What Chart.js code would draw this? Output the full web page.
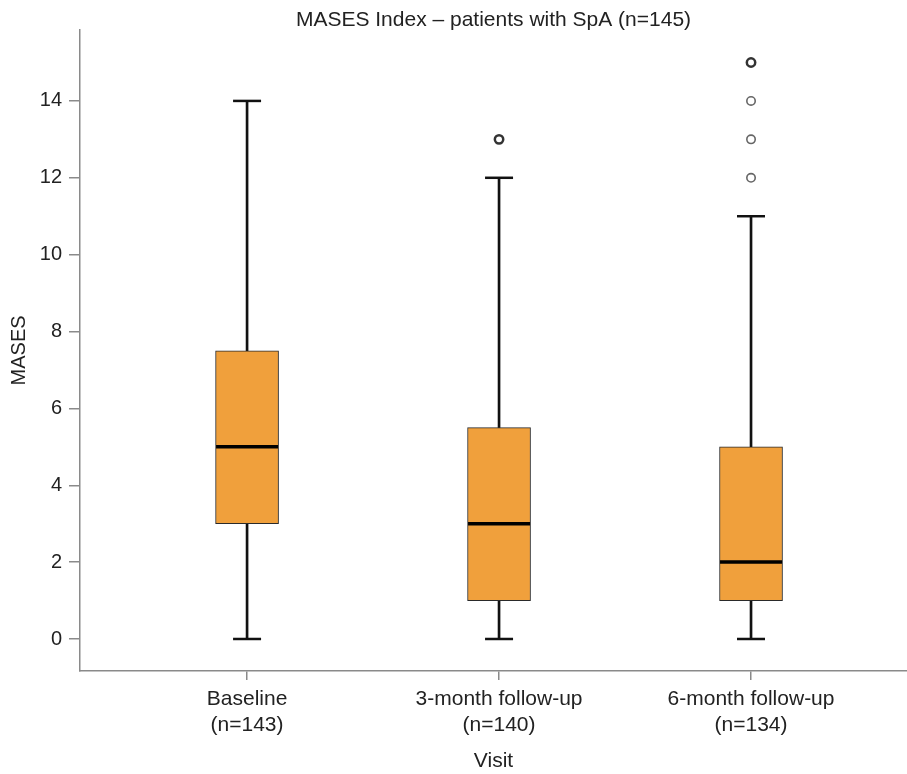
<!DOCTYPE html>
<html>
<head>
<meta charset="utf-8">
<script src="https://cdn.jsdelivr.net/npm/chart.js@4"></script>
<style>
  body { margin: 0; background: #fff; overflow: hidden; }
  #wrap { width: 907px; height: 774px; }
</style>
</head>
<body>
<div id="wrap"><canvas id="chart"></canvas></div>
<script>
// box plot summaries, one entry per visit
const categories = [['Baseline', '(n=143)'], ['3-month follow-up', '(n=140)'], ['6-month follow-up', '(n=134)']];
const whiskerLow = [0, 0, 0];
const q1 = [3, 1, 1];
const medians = [5, 3, 2];
const q3 = [7.5, 5.5, 5];
const whiskerHigh = [14, 12, 11];
const outlierValues = [[], [13], [12, 13, 14, 15]];
const outlierCounts = [[], [2], [1, 1, 1, 2]];
const yTicks = [0, 2, 4, 6, 8, 10, 12, 14];

const FONT = "'Liberation Sans', Arial, sans-serif";
const AXIS = '#8a8a8a';

const idx = categories.map((c, i) => i);

const boxes = idx.map(i => ({ x: i, y: [q1[i], q3[i]] }));
const stems = [];
idx.forEach(i => {
  stems.push({ x: i, y: [whiskerLow[i], q1[i]] });
  stems.push({ x: i, y: [q3[i], whiskerHigh[i]] });
});
const caps = [];
idx.forEach(i => {
  caps.push({ x: i, y: whiskerLow[i] });
  caps.push({ x: i, y: whiskerHigh[i] });
});
const medianPts = idx.map(i => ({ x: i, y: medians[i] }));
const outliers = [];
idx.forEach(i => {
  outlierValues[i].forEach((v, k) => outliers.push({ x: i, y: v, n: outlierCounts[i][k] }));
});

new Chart(document.getElementById('chart'), {
  type: 'bar',
  data: {
    datasets: [
      {
        type: 'bar',
        data: stems,
        backgroundColor: '#111',
        barThickness: 2,
        grouped: false,
        order: 5
      },
      {
        type: 'scatter',
        data: caps,
        pointStyle: 'line',
        pointRadius: 14,
        pointHoverRadius: 14,
        borderColor: '#111',
        borderWidth: 2.5,
        order: 4
      },
      {
        type: 'bar',
        data: boxes,
        backgroundColor: '#f0a03c',
        borderColor: '#2a2a2a',
        borderWidth: 1,
        borderSkipped: false,
        barThickness: 63,
        grouped: false,
        order: 3
      },
      {
        type: 'scatter',
        data: medianPts,
        pointStyle: 'line',
        pointRadius: 31,
        pointHoverRadius: 31,
        borderColor: '#000',
        borderWidth: 3.5,
        order: 2
      },
      {
        type: 'scatter',
        data: outliers,
        pointStyle: 'circle',
        pointRadius: 4.2,
        backgroundColor: '#fff',
        borderColor: ctx => (ctx.raw && ctx.raw.n > 1 ? '#333' : '#666'),
        borderWidth: ctx => (ctx.raw && ctx.raw.n > 1 ? 2.5 : 1.6),
        order: 1
      }
    ]
  },
  options: {
    responsive: true,
    maintainAspectRatio: false,
    animation: false,
    layout: { padding: 0, autoPadding: false },
    plugins: {
      legend: { display: false },
      tooltip: { enabled: false },
      title: {
        display: true,
        text: 'MASES Index – patients with SpA (n=145)',
        fullSize: false,
        color: '#222',
        font: { family: FONT, size: 21, weight: 'normal', lineHeight: 0.9 },
        padding: { top: 11, bottom: 0 }
      }
    },
    scales: {
      x: {
        type: 'linear',
        offset: false,
        min: -0.663,
        max: 2.619,
        afterBuildTicks: s => { s.ticks = idx.map(v => ({ value: v })); },
        afterFit: s => { s.height = 103; s.paddingLeft = 0; s.paddingRight = 0; },
        ticks: {
          callback: v => categories[v],
          color: '#222',
          padding: 6,
          maxRotation: 0,
          autoSkip: false,
          font: { family: FONT, size: 21, lineHeight: 1.25 }
        },
        grid: { offset: false, drawOnChartArea: false, drawTicks: true, tickLength: 9, color: AXIS, lineWidth: 1.5 },
        border: { display: true, color: AXIS, width: 1.5 },
        title: {
          display: true,
          text: 'Visit',
          color: '#222',
          font: { family: FONT, size: 21, lineHeight: 1.2 },
          padding: { top: 0, bottom: 0 }
        }
      },
      y: {
        type: 'linear',
        min: -0.833,
        max: 15.848,
        afterBuildTicks: s => { s.ticks = yTicks.map(v => ({ value: v })); },
        afterFit: s => { s.width = 80; s.paddingTop = 0; s.paddingBottom = 0; },
        ticks: {
          color: '#222',
          padding: 7,
          font: { family: FONT, size: 20 }
        },
        grid: { drawOnChartArea: false, drawTicks: true, tickLength: 11, color: AXIS, lineWidth: 1.5 },
        border: { display: true, color: AXIS, width: 1.5 },
        title: {
          display: true,
          text: 'MASES',
          color: '#222',
          font: { family: FONT, size: 20 },
          padding: { top: 7, bottom: 0 }
        }
      }
    }
  }
});
</script>
</body>
</html>
